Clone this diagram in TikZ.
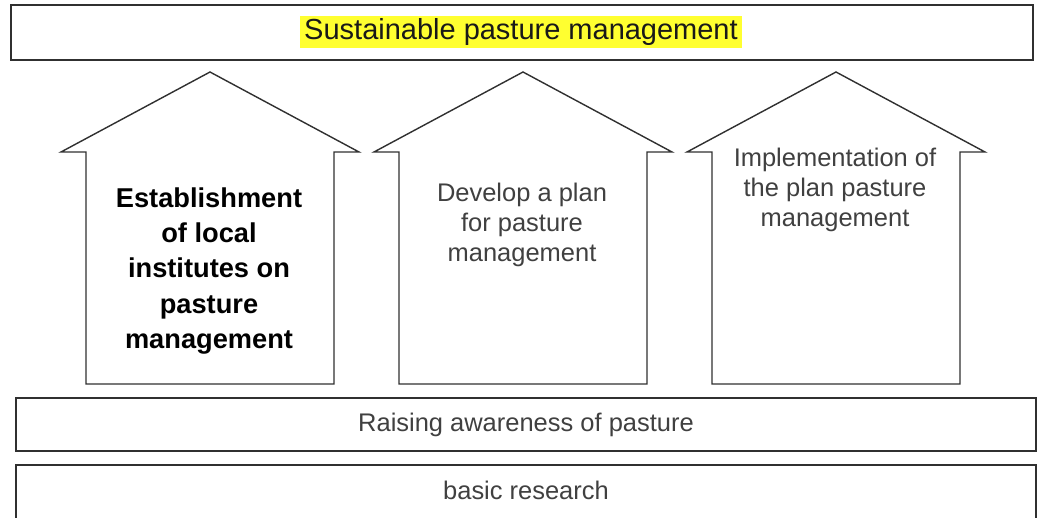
\documentclass[tikz,border=0pt]{standalone}
\usepackage{fontspec}
\setmainfont{Liberation Sans}

\definecolor{txtgray}{HTML}{404040}
\definecolor{linegray}{HTML}{303030}
\definecolor{hilite}{HTML}{FFFF30}

\tikzset{
	bar/.style={draw=linegray, line width=0.8pt, line join=miter},
	barbox/.style={bar, minimum width=1020*0.02cm, inner sep=0pt},
	graytext/.style={text=txtgray, font=\fontsize{14.5}{17}\selectfont, align=center},
}

\begin{document}
\begin{tikzpicture}[x=0.02cm, y=-0.02cm]
	\useasboundingbox (0,0) rectangle (1044,517);
	% Top bar with highlighted goal
	\node[barbox, minimum width=1022*0.02cm, minimum height=55*0.02cm] (top) at (522,32.5) {};
	\node[fill=hilite, inner xsep=2.5pt, inner ysep=1.6pt, text=black!90, font=\fontsize{16.5}{19}\selectfont] (goal) at (521,32) {Sustainable pasture management};
	% House shaped arrows
	\foreach \cx in {210,523,836}
	\draw[bar] (\cx,72) -- (\cx+149,152) -- (\cx+124,152) -- (\cx+124,384) -- (\cx-124,384) -- (\cx-124,152) -- (\cx-149,152) -- cycle;
	\node[align=center, font=\fontsize{15.5}{20}\bfseries] (est) at (209,271) {Establishment\\of local\\institutes on\\pasture\\management};
	\node[graytext] (plan) at (522,225) {Develop a plan\\for pasture\\management};
	\node[graytext] (impl) at (835,190) {Implementation of\\the plan pasture\\management};
	% Bottom bars
	\node[barbox, minimum height=53*0.02cm, graytext] (aware) at (526,424.5) {Raising awareness of pasture};
	\node[barbox, minimum height=54*0.02cm] (base) at (526,492) {};
	\node[graytext] (research) at (526,490) {basic research};
\end{tikzpicture}
\end{document}
